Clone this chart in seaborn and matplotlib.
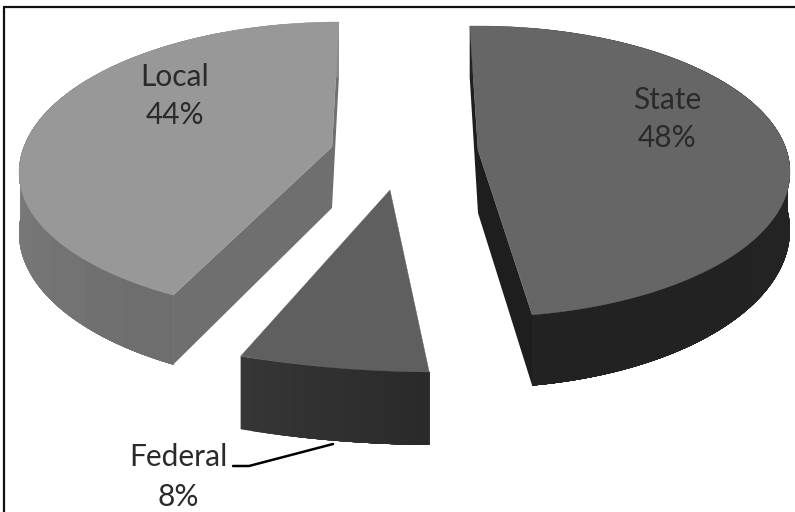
import numpy as np
import matplotlib
matplotlib.use("Agg")
import matplotlib.pyplot as plt
import seaborn as sns

# Data
categories = ["Local", "State", "Federal"]
values = [44, 48, 8]

# Style: pseudo-3D geometry per slice (pixel space of the figure)
top_colors = ["#989898", "#666666", "#5f5f5f"]
side_start = ["#8c8c8c", "#242424", "#363636"]
side_end = ["#6e6e6e", "#222222", "#2a2a2a"]
cut_colors = ["#6f6f6f", "#1e1e1e", "#333333"]
geom = [
    dict(cx=340, cy=173, rx=321, up=151, low=143, start=90.2, warp=0.9375, direction=1,
         apex=(332, 147), apex_d=61, d0=60, dk=11),
    dict(cx=478, cy=172, rx=312, up=146, low=145, start=91.5, warp=0.9925, direction=-1,
         apex=(478, 150), apex_d=63, d0=58, dk=13),
    dict(cx=440, cy=182, rx=500, up=190, low=190, start=246.5, warp=0.773, direction=1,
         apex=(390, 190), apex_d=0, d0=73, dk=0),
]

sns.set_theme(style="white")
plt.rcParams["font.family"] = ["Lato", "DejaVu Sans"]

fig = plt.figure(figsize=(7.95, 5.12), dpi=100)
ax = fig.add_axes([0, 0, 1, 1])
ax.set_xlim(0, 795)
ax.set_ylim(512, 0)
ax.axis("off")


def arc_points(g, value):
    sweep = value / 100 * 360 * g["warp"] * g["direction"]
    th = np.radians(np.linspace(g["start"], g["start"] + sweep, 120))
    s = np.sin(th)
    ry = np.where(s >= 0, g["up"], g["low"])
    x = g["cx"] + g["rx"] * np.cos(th)
    y = g["cy"] - ry * s
    d = g["d0"] + g["dk"] * np.clip(-s, -0.4, 1)
    return x, y, d


for i in [0, 2, 1]:
    g = geom[i]
    x, y, d = arc_points(g, values[i])
    ax_, ay_ = g["apex"]
    # cut faces
    if g["apex_d"]:
        for k in (0, -1):
            ax.fill([x[k], ax_, ax_, x[k]],
                    [y[k], ay_, ay_ + g["apex_d"], y[k] + d[k]],
                    color=cut_colors[i], lw=0, zorder=1 + i * 0.1)
    # outer wall: overlapping bands, each painted to the end of the arc
    c0 = np.array(matplotlib.colors.to_rgb(side_start[i]))
    c1 = np.array(matplotlib.colors.to_rgb(side_end[i]))
    bands = 14
    for b in range(bands):
        k = int(b / bands * (len(x) - 1))
        c = c0 + (c1 - c0) * b / (bands - 1)
        ax.fill(np.r_[x[k:], x[k:][::-1]],
                np.r_[y[k:], (y + d)[k:][::-1]],
                color=c, lw=0, zorder=2 + i * 0.1)
    # top face
    ax.fill(np.r_[ax_, x], np.r_[ay_, y], color=top_colors[i], lw=0.3, zorder=3 + i * 0.1)

# Labels
text_kw = dict(ha="center", va="center", fontsize=21.5, color="#2a2a2a", zorder=6)
label_pos = [(175, 77, 115), (667, 100, 138), (178, 457, 497)]
for name, v, (lx, ly1, ly2) in zip(categories, values, label_pos):
    ax.text(lx, ly1, name, **text_kw)
    ax.text(lx, ly2, f"{v}%", **text_kw)

# Leader line
ax.plot([233, 249, 333], [466, 466, 444], color="black", lw=1.8, zorder=5)

# Frame
ax.plot([4, 4], [512, 7], color="#111111", lw=1.6, zorder=7)
ax.plot([4, 795], [7, 7], color="#111111", lw=1.6, zorder=7)

fig.savefig("out.png", dpi=100)
